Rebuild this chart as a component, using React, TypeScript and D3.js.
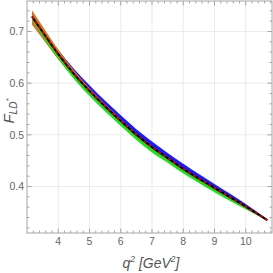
import { useEffect, useRef } from "react";
import * as d3 from "d3";

const W = 273, H = 273;
const margin = { top: 1, right: 1, bottom: 40, left: 27 };

// q^2 sample points and the central curve
const q2 = [3.16, 3.5, 4, 4.5, 5, 5.5, 6, 6.5, 7, 7.5, 8, 8.5, 9, 9.5, 10, 10.69];
const center = [0.729, 0.699, 0.656, 0.618, 0.585, 0.555, 0.527, 0.5, 0.476, 0.455, 0.434, 0.415, 0.397, 0.379, 0.361, 0.335];
// band half-widths (upper / lower) for each band
const blueUp = [0.004, 0.006, 0.008, 0.01, 0.011, 0.011, 0.011, 0.011, 0.011, 0.01, 0.01, 0.009, 0.008, 0.007, 0.005, 0.001];
const greenDown = [0.006, 0.008, 0.009, 0.01, 0.01, 0.01, 0.01, 0.01, 0.01, 0.009, 0.009, 0.008, 0.008, 0.007, 0.005, 0.001];
const orangeUp = [0.012, 0.011, 0.009, 0.007, 0.005, 0.004, 0.003, 0.002, 0.002, 0.001, 0.001, 0.001, 0.001, 0, 0, 0];
const orangeDown = [0.016, 0.013, 0.01, 0.007, 0.005, 0.004, 0.003, 0.002, 0.002, 0.001, 0.001, 0.001, 0.001, 0, 0, 0];

const xTicks = [4, 5, 6, 7, 8, 9, 10];
const yTicks = [0.4, 0.5, 0.6, 0.7];

const App = () => {
  const ref = useRef<SVGSVGElement>(null);

  useEffect(() => {
    const svg = d3.select(ref.current);
    svg.selectAll("*").remove();

    const x = d3.scaleLinear().domain([3.0, 10.84]).range([margin.left, W - margin.right]);
    const y = d3.scaleLinear().domain([0.31, 0.759]).range([H - margin.bottom, margin.top]);
    const x0 = x.range()[0], x1 = x.range()[1];
    const y0 = y.range()[0], y1 = y.range()[1];

    // grid
    xTicks.forEach((t) => {
      svg.append("line").attr("x1", x(t)).attr("x2", x(t)).attr("y1", y1).attr("y2", y0)
        .attr("stroke", "#ebebeb").attr("stroke-width", 1);
    });
    yTicks.forEach((t) => {
      svg.append("line").attr("x1", x0).attr("x2", x1).attr("y1", y(t)).attr("y2", y(t))
        .attr("stroke", "#ebebeb").attr("stroke-width", 1);
    });

    const idx = d3.range(q2.length);
    const band = (lo: (i: number) => number, hi: (i: number) => number) =>
      d3.area<number>()
        .x((i) => x(q2[i]))
        .y0((i) => y(lo(i)))
        .y1((i) => y(hi(i)))
        .curve(d3.curveMonotoneX)(idx);

    svg.append("path").attr("d", band((i) => center[i], (i) => center[i] + blueUp[i]) as string)
      .attr("fill", "#1a1aff");
    svg.append("path").attr("d", band((i) => center[i] - orangeDown[i], (i) => center[i] + orangeUp[i]) as string)
      .attr("fill", "#cc7a2a");
    svg.append("path").attr("d", band((i) => center[i] - greenDown[i], (i) => center[i]) as string)
      .attr("fill", "#17e617");

    const line = d3.line<number>().x((i) => x(q2[i])).y((i) => y(center[i])).curve(d3.curveMonotoneX)(idx) as string;
    svg.append("path").attr("d", line).attr("fill", "none").attr("stroke", "#000").attr("stroke-width", 2);
    svg.append("path").attr("d", line).attr("fill", "none").attr("stroke", "#e00000").attr("stroke-width", 2)
      .attr("stroke-dasharray", "3,3");

    // frame
    svg.append("rect").attr("x", x0).attr("y", y1).attr("width", x1 - x0).attr("height", y0 - y1)
      .attr("fill", "none").attr("stroke", "#a6a6a6").attr("stroke-width", 1);

    // ticks on all sides
    const tickCol = "#a6a6a6";
    d3.range(3.2, 10.84, 0.2).forEach((t) => {
      const major = Math.abs(t - Math.round(t)) < 1e-6;
      const len = major ? 4.5 : 2.5;
      svg.append("line").attr("x1", x(t)).attr("x2", x(t)).attr("y1", y0).attr("y2", y0 - len).attr("stroke", tickCol);
      svg.append("line").attr("x1", x(t)).attr("x2", x(t)).attr("y1", y1).attr("y2", y1 + len).attr("stroke", tickCol);
    });
    d3.range(0.32, 0.759, 0.02).forEach((t) => {
      const major = Math.abs(t * 10 - Math.round(t * 10)) < 1e-6;
      const len = major ? 4.5 : 2.5;
      svg.append("line").attr("x1", x0).attr("x2", x0 + len).attr("y1", y(t)).attr("y2", y(t)).attr("stroke", tickCol);
      svg.append("line").attr("x1", x1).attr("x2", x1 - len).attr("y1", y(t)).attr("y2", y(t)).attr("stroke", tickCol);
    });

    // tick labels
    const font = "Liberation Sans, Arial, sans-serif";
    xTicks.forEach((t) => {
      svg.append("text").attr("x", x(t)).attr("y", y0 + 12).attr("text-anchor", "middle")
        .attr("font-family", font).attr("font-size", 10.5).attr("fill", "#666").text(String(t));
    });
    yTicks.forEach((t) => {
      svg.append("text").attr("x", x0 - 3).attr("y", y(t) + 4).attr("text-anchor", "end")
        .attr("font-family", font).attr("font-size", 10.5).attr("fill", "#666").text(t.toFixed(1));
    });

    // axis labels
    const xl = svg.append("text").attr("x", 151).attr("y", 268).attr("text-anchor", "middle")
      .attr("font-family", font).attr("font-size", 14).attr("font-style", "italic").attr("fill", "#555");
    xl.append("tspan").text("q");
    xl.append("tspan").attr("dy", -6).attr("font-size", 8.5).text("2");
    xl.append("tspan").attr("dy", 6).text(" [GeV");
    xl.append("tspan").attr("dy", -6).attr("font-size", 8.5).text("2");
    xl.append("tspan").attr("dy", 6).text("]");

    const yl = svg.append("text").attr("transform", "translate(14,111) rotate(-90)").attr("text-anchor", "middle")
      .attr("font-family", font).attr("font-size", 15).attr("font-style", "italic").attr("fill", "#555");
    yl.append("tspan").text("F");
    yl.append("tspan").attr("dy", 3).attr("font-size", 10).text("LD");
    yl.append("tspan").attr("dy", -6).attr("font-size", 8).text("*");
  }, []);

  return (
    <svg ref={ref} width={W} height={H} style={{ position: "absolute", left: 0, top: 0, background: "#fff" }} />
  );
};

export default App;
